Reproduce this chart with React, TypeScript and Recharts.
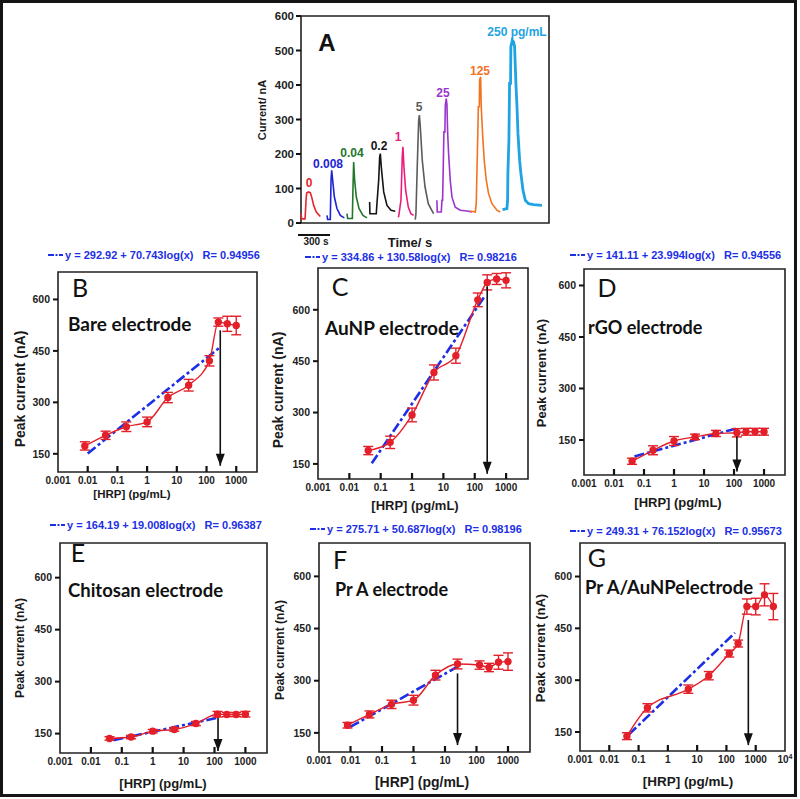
import React from 'react'
import { ComposedChart, Line, XAxis, YAxis, ReferenceArea, ErrorBar } from 'recharts'

// ---------- panel A: current/time traces for each HRP level ----------
const ampLabels = ['0', '0.008', '0.04', '0.2', '1', '5', '25', '125', '250 pg/mL']
const ampColors = ['#e5262d', '#1d24d4', '#23772b', '#141414', '#ea1d7d', '#5b5b5b', '#9b34cc', '#f2731f', '#1fa3e3']

const tRed = [0, 6, 37, 46, 52, 67, 85, 98, 116, 140, 177]
const iRed = [27, 12, 12, 66, 87, 90, 88, 75, 51, 32, 19]
const tBlue = [238, 244, 268, 275, 281, 290, 305, 329, 360, 397]
const iBlue = [22, 10, 10, 124, 153, 124, 76, 42, 22, 15]
const tGreen = [421, 427, 470, 476, 482, 491, 506, 531, 567, 604]
const iGreen = [27, 13, 13, 105, 177, 124, 76, 42, 22, 15]
const tBlack = [628, 631, 689, 695, 711, 720, 726, 735, 757, 787, 824, 863]
const iBlack = [61, 27, 27, 56, 124, 191, 201, 162, 90, 51, 37, 34]
const tPink = [888, 894, 915, 927, 933, 942, 958, 982, 1006, 1031]
const iPink = [17, 19, 66, 192, 221, 163, 95, 46, 27, 22]
const tGray = [1046, 1052, 1064, 1077, 1083, 1092, 1110, 1135, 1165, 1196, 1214]
const iGray = [10, 27, 163, 298, 313, 279, 182, 105, 56, 37, 27]
const tPurple = [1244, 1247, 1284, 1290, 1296, 1302, 1308, 1317, 1321, 1330, 1336, 1342, 1351, 1366, 1382, 1412, 1458, 1519, 1565]
const iPurple = [66, 32, 32, 66, 66, 163, 264, 264, 342, 361, 342, 264, 201, 124, 75, 46, 37, 35, 32]
const tOrange = [1549, 1595, 1604, 1610, 1617, 1623, 1632, 1635, 1644, 1650, 1662, 1677, 1696, 1717, 1748, 1793, 1824]
const iOrange = [35, 32, 56, 143, 240, 337, 337, 414, 424, 337, 259, 182, 124, 85, 56, 37, 32]
const tCyan = [1845, 1885, 1891, 1894, 1903, 1909, 1918, 1921, 1934, 1946, 1955, 1967, 1977, 1986, 2001, 2013, 2032, 2053, 2083, 2129, 2205]
const iCyan = [39, 42, 66, 148, 240, 405, 405, 511, 530, 525, 511, 405, 337, 259, 182, 143, 95, 66, 56, 53, 51]

const traces = [
  [tRed, iRed], [tBlue, iBlue], [tGreen, iGreen], [tBlack, iBlack], [tPink, iPink],
  [tGray, iGray], [tPurple, iPurple], [tOrange, iOrange], [tCyan, iCyan],
]

// ---------- panels B-G: peak current vs [HRP] ----------
const hrp10 = [0.008, 0.04, 0.2, 1, 5, 25, 125, 250, 500, 1000]
const hrp9 = [0.04, 0.2, 1, 5, 25, 125, 250, 500, 1000]
const hrpG = [0.04, 0.2, 5, 25, 125, 250, 500, 1000, 2000, 4000]

const peakB = [173, 204, 229, 243, 314, 350, 421, 534, 529, 524]
const errB = [12, 12, 14, 14, 15, 17, 15, 12, 22, 27]
const peakC = [189, 213, 293, 417, 466, 629, 680, 690, 686]
const errC = [12, 18, 20, 22, 22, 20, 22, 16, 22]
const peakD = [88, 120, 147, 159, 169, 171, 174, 174, 174]
const errD = [9, 13, 13, 8, 9, 12, 10, 10, 10]
const peakE = [136, 140, 157, 162, 179, 206, 205, 205, 206]
const errE = [5, 5, 5, 5, 6, 8, 6, 6, 8]
const peakF = [172, 203, 232, 244, 316, 348, 345, 338, 353, 355]
const errF = [8, 10, 12, 14, 14, 14, 12, 12, 20, 25]
const peakG = [138, 220, 274, 313, 377, 406, 513, 513, 547, 513]
const errG = [10, 12, 12, 12, 10, 10, 22, 24, 32, 38]

// linear fit segments (ends)
const fitXB = [0.01, 290], fitYB = [151, 461]
const fitXC = [0.052, 210], fitYC = [152, 640]
const fitXD = [0.048, 140], fitYD = [102, 185]
const fitXE = [0.054, 130], fitYE = [131, 196]
const fitXF = [0.0098, 31], fitYF = [167, 345]
const fitXG = [0.047, 195], fitYG = [143, 437]

const equations = [
  'y = 292.92 + 70.743log(x)   R= 0.94956',
  'y = 334.86 + 130.58log(x)   R= 0.98216',
  'y = 141.11 + 23.994log(x)   R= 0.94556',
  'y = 164.19 + 19.008log(x)   R= 0.96387',
  'y = 275.71 + 50.687log(x)   R= 0.98196',
  'y = 249.31 + 76.152log(x)   R= 0.95673',
]
const letters = ['B', 'C', 'D', 'E', 'F', 'G']
const electrodes = ['Bare electrode', 'AuNP electrode', 'rGO electrode', 'Chitosan electrode', 'Pr A electrode', 'Pr A/AuNPelectrode']

const FONT = '"Liberation Sans", Arial, sans-serif'
const CAL = 'Lato, "Open Sans", sans-serif'
const RED = '#e3202a'
const BLUE = '#1c2fe6'

type Pt = { x: number; y: number; e?: number }
const zip = (xs: number[], ys: number[], es?: number[]): Pt[] =>
  xs.map((x, k) => ({ x, y: ys[k], e: es ? es[k] : undefined }))

type Cal = {
  frame: number[] // x0, y0, x1, y1 (plot box on page)
  xMax: number
  yDom: [number, number]
  hrp: number[]; peak: number[]; err: number[]
  fitX: number[]; fitY: number[]
  arrowX: number; arrowY: number[]
  letterAt: number[]; nameAt: number[]; eqAt: number[]
  yTitle: number[]; xTitle: number[]
}

const panels: Cal[] = [
  { frame: [58, 272, 257, 472], xMax: 5000, yDom: [97, 680], hrp: hrp10, peak: peakB, err: errB, fitX: fitXB, fitY: fitYB,
    arrowX: 290, arrowY: [510, 115], letterAt: [80, 287], nameAt: [68, 323, 19], eqAt: [48, 255],
    yTitle: [20, 389, 14], xTitle: [132, 495, 11.5] },
  { frame: [318, 268, 528, 479], xMax: 5000, yDom: [106, 722], hrp: hrp9, peak: peakC, err: errC, fitX: fitXC, fitY: fitYC,
    arrowX: 250, arrowY: [668, 121], letterAt: [340, 286], nameAt: [325, 327, 19], eqAt: [305, 257],
    yTitle: [278, 390, 14], xTitle: [415, 505, 13] },
  { frame: [584, 269, 785, 475], xMax: 5000, yDom: [48, 648], hrp: hrp9, peak: peakD, err: errD, fitX: fitXD, fitY: fitYD,
    arrowX: 125, arrowY: [168, 58], letterAt: [607, 287], nameAt: [588, 327, 18], eqAt: [570, 255],
    yTitle: [541, 373, 13], xTitle: [678, 502, 13] },
  { frame: [60, 543, 267, 753], xMax: 5000, yDom: [94, 700], hrp: hrp9, peak: peakE, err: errE, fitX: fitXE, fitY: fitYE,
    arrowX: 130, arrowY: [204, 100], letterAt: [78, 552], nameAt: [68, 590, 18.5], eqAt: [50, 525],
    yTitle: [20, 648, 12], xTitle: [163, 783, 13] },
  { frame: [319, 543, 530, 752], xMax: 5000, yDom: [95, 696], hrp: hrp10, peak: peakF, err: errF, fitX: fitXF, fitY: fitYF,
    arrowX: 25, arrowY: [321, 115], letterAt: [340, 559], nameAt: [335, 589, 18], eqAt: [310, 529],
    yTitle: [280, 650, 12], xTitle: [422, 782, 14] },
  { frame: [580, 543, 785, 751], xMax: 10000, yDom: [95, 697], hrp: hrpG, peak: peakG, err: errG, fitX: fitXG, fitY: fitYG,
    arrowX: 560, arrowY: [474, 112], letterAt: [597, 557], nameAt: [585, 587, 18.5], eqAt: [570, 531],
    yTitle: [540, 648, 13], xTitle: [688, 782, 13.5] },
]

function Txt({ x, y, children, size, color = '#1a1a1a', weight = 700, font = FONT, anchor = 'middle', rotate = 0 }: any) {
  const tx = anchor === 'middle' ? '-50%' : anchor === 'end' ? '-100%' : '0'
  return (
    <div style={{ position: 'absolute', left: x, top: y, transform: `translate(${tx}, -50%) rotate(${rotate}deg)`,
      fontSize: size, color, fontWeight: weight, fontFamily: font, whiteSpace: 'pre', lineHeight: 1 }}>
      {children}
    </div>
  )
}

function ArrowHead(props: any) {
  const { cx, cy, index } = props
  if (index !== 1) return <g key={index} />
  return <path key={index} d={`M${cx - 4.5},${cy - 12} L${cx + 4.5},${cy - 12} L${cx},${cy} Z`} fill="#111" />
}

function LogTick(props: any) {
  const { x, y, payload, xMax } = props
  const v = payload.value
  return (
    <g>
      {v > 0.0011 && v < xMax * 0.9 && <line x1={x} x2={x} y1={y} y2={y - 6} stroke="#111" strokeWidth={2.2} />}
      <text x={x} y={y + 12} textAnchor="middle" fontSize={10} fontWeight={700} fill="#222" fontFamily={FONT}>
        {v === 10000 ? <>10<tspan dy={-4} fontSize={7}>4</tspan></> : String(v)}
      </text>
    </g>
  )
}

function CalChart({ c }: { c: Cal }) {
  const [x0, y0, x1, y1] = c.frame
  const L = 40, T = 6, B = 24, R = 12
  const xTicks = c.xMax > 6000 ? [0.001, 0.01, 0.1, 1, 10, 100, 1000, 10000] : [0.001, 0.01, 0.1, 1, 10, 100, 1000]
  return (
    <div style={{ position: 'absolute', left: x0 - L, top: y0 - T }}>
      <ComposedChart width={x1 - x0 + L + R} height={y1 - y0 + T + B} margin={{ top: T, right: R, bottom: 0, left: 0 }}>
        <XAxis dataKey="x" type="number" scale="log" domain={[0.001, c.xMax]} allowDataOverflow ticks={xTicks} interval={0}
          tick={(p: any) => <LogTick {...p} xMax={c.xMax} />} tickLine={false} axisLine={false} tickSize={0} tickMargin={0} height={B} />
        <YAxis type="number" domain={c.yDom} allowDataOverflow ticks={[150, 300, 450, 600]} width={L} tickSize={5} tickMargin={3}
          tickLine={{ stroke: '#111', strokeWidth: 2 }} axisLine={false}
          tick={{ fontSize: 10.5, fontWeight: 700, fill: '#222', fontFamily: FONT }} />
        <ReferenceArea x1={0.001} x2={c.xMax} y1={c.yDom[0]} y2={c.yDom[1]} fill="none" stroke="#222" strokeWidth={1.6} />
        <Line data={zip(c.fitX, c.fitY)} dataKey="y" type="linear" stroke={BLUE} strokeWidth={2.6}
          strokeDasharray="10 3 3 3" dot={false} isAnimationActive={false} />
        <Line data={zip(c.hrp, c.peak, c.err)} dataKey="y" type="monotone" stroke={RED} strokeWidth={1.4}
          dot={{ r: 3, fill: RED, stroke: RED }} isAnimationActive={false}>
          <ErrorBar dataKey="e" width={5} stroke={RED} strokeWidth={1.4} direction="y" />
        </Line>
        <Line data={[{ x: c.arrowX, y: c.arrowY[0] }, { x: c.arrowX, y: c.arrowY[1] }]} dataKey="y" type="linear"
          stroke="#111" strokeWidth={1.6} dot={ArrowHead} activeDot={false} isAnimationActive={false} />
      </ComposedChart>
    </div>
  )
}

function EqLine({ x, y, text }: { x: number; y: number; text: string }) {
  return (
    <div style={{ position: 'absolute', left: x, top: y - 7, display: 'flex', alignItems: 'center', height: 14,
      fontFamily: FONT, fontWeight: 700, fontSize: 11, color: BLUE, whiteSpace: 'pre' }}>
      <svg width={15} height={4} style={{ marginRight: 2 }}>
        <line x1={0} x2={15} y1={2} y2={2} stroke={BLUE} strokeWidth={2} strokeDasharray="6 1.5 2 1.5" />
      </svg>
      {text}
    </div>
  )
}

const ampLabelAt = [[309, 183], [328, 164], [352, 153], [379, 146], [398, 137], [419, 107], [443, 93], [480, 71], [517, 32]]

function AmpChart() {
  const [x0, y0, x1, y1] = [301, 16, 549, 223]
  const L = 36, T = 6, B = 6, R = 4
  return (
    <div style={{ position: 'absolute', left: x0 - L, top: y0 - T }}>
      <ComposedChart width={x1 - x0 + L + R} height={y1 - y0 + T + B} margin={{ top: 0, right: R, bottom: 0, left: 0 }}>
        <XAxis xAxisId="b" dataKey="x" type="number" domain={[0, 2270]} ticks={[600, 1200, 1800]} tick={false} tickSize={4}
          height={B} axisLine={false} tickLine={{ stroke: '#111', strokeWidth: 1.5 }} />
        <XAxis xAxisId="t" orientation="top" dataKey="x" type="number" domain={[0, 2270]} ticks={[600, 1200, 1800]} tick={false}
          tickSize={4} height={T} axisLine={false} tickLine={{ stroke: '#111', strokeWidth: 1.5 }} />
        <YAxis type="number" domain={[0, 600]} ticks={[0, 100, 200, 300, 400, 500, 600]} width={L} tickSize={5} tickMargin={2}
          axisLine={false} tickLine={{ stroke: '#111', strokeWidth: 2 }}
          tick={{ fontSize: 11.5, fontWeight: 700, fill: '#222', fontFamily: FONT }} />
        <ReferenceArea xAxisId="b" x1={0} x2={2270} y1={0} y2={600} fill="none" stroke="#222" strokeWidth={1.6} />
        {traces.map(([t, i], k) => (
          <Line key={k} xAxisId="b" data={zip(t, i)} dataKey="y" type="linear" stroke={ampColors[k]}
            strokeWidth={k === 8 ? 2.8 : 1.6} dot={false} activeDot={false} isAnimationActive={false} />
        ))}
      </ComposedChart>
    </div>
  )
}

export default function App() {
  return (
    <div style={{ position: 'absolute', left: 0, top: 0, width: 800, height: 799, background: '#fff', overflow: 'hidden' }}>
      <div style={{ position: 'absolute', left: 0, top: 0, width: 797, height: 797, border: '3px solid #151515', boxSizing: 'border-box' }} />

      <AmpChart />
      <Txt x={327} y={43} size={24} color="#111">A</Txt>
      {ampLabels.map((s, k) => (
        <Txt key={s} x={ampLabelAt[k][0]} y={ampLabelAt[k][1]} size={12} color={ampColors[k]}>{s}</Txt>
      ))}
      <Txt x={262} y={110} size={11} rotate={-90}>Current/ nA</Txt>
      <div style={{ position: 'absolute', left: 298, top: 234, width: 32, height: 2, background: '#111' }} />
      <Txt x={316} y={242} size={10}>300 s</Txt>
      <Txt x={410} y={242} size={13}>Time/ s</Txt>

      {panels.map((c, k) => (
        <React.Fragment key={k}>
          <CalChart c={c} />
          <EqLine x={c.eqAt[0]} y={c.eqAt[1]} text={equations[k]} />
          <Txt x={c.letterAt[0]} y={c.letterAt[1]} size={25} weight={400} font={CAL} color="#111">{letters[k]}</Txt>
          <Txt x={c.nameAt[0]} y={c.nameAt[1]} size={c.nameAt[2]} font={CAL} anchor="start" color="#111">{electrodes[k]}</Txt>
          <Txt x={c.yTitle[0]} y={c.yTitle[1]} size={c.yTitle[2]} rotate={-90}>Peak current (nA)</Txt>
          <Txt x={c.xTitle[0]} y={c.xTitle[1]} size={c.xTitle[2]}>[HRP] (pg/mL)</Txt>
        </React.Fragment>
      ))}
    </div>
  )
}
